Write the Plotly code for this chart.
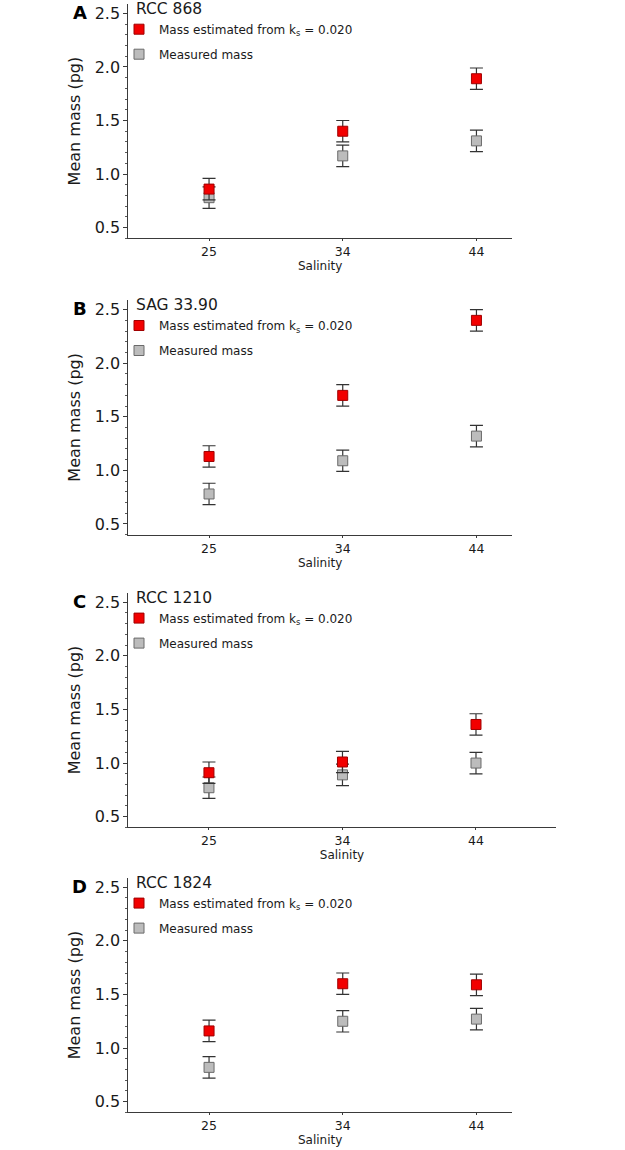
import plotly.graph_objects as go

salinity = ["25", "34", "44"]
panel_letters = ["A", "B", "C", "D"]
strains = ["RCC 868", "SAG 33.90", "RCC 1210", "RCC 1824"]

est_mass = [
    [0.86, 1.40, 1.89],
    [1.13, 1.70, 2.40],
    [0.91, 1.01, 1.36],
    [1.16, 1.60, 1.59],
]
est_err = [
    [0.10, 0.10, 0.10],
    [0.10, 0.10, 0.10],
    [0.10, 0.10, 0.10],
    [0.10, 0.10, 0.10],
]
meas_mass = [
    [0.78, 1.17, 1.31],
    [0.78, 1.09, 1.32],
    [0.77, 0.89, 1.00],
    [0.82, 1.25, 1.27],
]
meas_err = [
    [0.10, 0.10, 0.10],
    [0.10, 0.10, 0.10],
    [0.10, 0.10, 0.10],
    [0.10, 0.10, 0.10],
]

W, H = 625, 1150
FONT = "DejaVu Sans"
TXT = "#1a1a1a"

# pixel geometry of each panel (left, right, top, bottom)
panels = [
    (128.3, 512.0, 3.7, 238.4),
    (128.3, 512.0, 300.0, 534.7),
    (128.3, 555.7, 592.6, 827.4),
    (128.3, 512.0, 877.6, 1112.4),
]
xright = [2.266, 2.266, 2.597, 2.266]

fig = go.Figure()
layout = dict(
    template="none",
    width=W, height=H,
    margin=dict(l=0, r=0, t=0, b=0, pad=0),
    paper_bgcolor="white", plot_bgcolor="white",
    font=dict(family=FONT, color=TXT),
    showlegend=True,
)
annotations = []

for i in range(4):
    sfx = "" if i == 0 else str(i + 1)
    xa, ya = "x" + sfx, "y" + sfx
    lg = "legend" + sfx
    l, r, t, b = panels[i]

    fig.add_trace(go.Scatter(
        x=salinity, y=meas_mass[i], mode="markers", name="Measured mass",
        xaxis=xa, yaxis=ya, legend=lg, legendgroup="m%d" % i, legendrank=2,
        marker=dict(symbol="square", size=10, color="#bcbcbc",
                    line=dict(color="#6a6a6a", width=1)),
        error_y=dict(type="data", array=meas_err[i], color="#333333",
                     thickness=1.2, width=6.5),
    ))
    fig.add_trace(go.Scatter(
        x=salinity, y=est_mass[i], mode="markers",
        name="Mass estimated from k<sub>s</sub> = 0.020",
        xaxis=xa, yaxis=ya, legend=lg, legendgroup="e%d" % i, legendrank=1,
        marker=dict(symbol="square", size=10, color="#f20000",
                    line=dict(color="#a00000", width=1)),
        error_y=dict(type="data", array=est_err[i], color="#333333",
                     thickness=1.2, width=6.5),
    ))

    layout["xaxis" + sfx] = dict(
        domain=[l / W, r / W], anchor=ya, type="category",
        categoryorder="array", categoryarray=salinity,
        range=[-0.604, xright[i]], automargin=False,
        showline=True, linecolor="#3a3a3a", linewidth=1,
        ticks="outside", ticklen=2, tickcolor="#3a3a3a",
        tickfont=dict(size=12.5, family=FONT, color=TXT),
        showgrid=False, zeroline=False,
        title=dict(text="Salinity", font=dict(size=12, family=FONT, color=TXT),
                   standoff=1),
    )
    layout["yaxis" + sfx] = dict(
        domain=[1 - b / H, 1 - t / H], anchor=xa,
        range=[0.40, 2.59], automargin=False,
        tickvals=[0.5, 1.0, 1.5, 2.0, 2.5], ticktext=["0.5", "1.0", "1.5", "2.0", "2.5"],
        showline=True, linecolor="#3a3a3a", linewidth=1,
        ticks="outside", ticklen=4, tickcolor="#3a3a3a",
        minor=dict(dtick=0.1, tick0=0, ticks="outside", ticklen=2.5,
                   tickcolor="#5a5a5a", showgrid=False),
        tickfont=dict(size=16, family=FONT, color=TXT),
        showgrid=False, zeroline=False,
        title=dict(text="Mean mass (pg)", font=dict(size=16, family=FONT, color=TXT),
                   standoff=10),
    )
    layout[lg] = dict(
        x=119 / W, xanchor="left",
        y=1 - (t + 11) / H, yanchor="top",
        traceorder="grouped", tracegroupgap=6,
        bgcolor="rgba(0,0,0,0)", borderwidth=0,
        font=dict(size=12, family=FONT, color=TXT),
        itemclick=False, itemdoubleclick=False,
    )
    annotations.append(dict(
        text=strains[i], xref="paper", yref="paper",
        x=134 / W, y=1 - (t + 5) / H, xanchor="left", yanchor="middle",
        showarrow=False, font=dict(size=15.5, family=FONT, color=TXT),
    ))
    annotations.append(dict(
        text="<b>%s</b>" % panel_letters[i], xref="paper", yref="paper",
        x=79.5 / W, y=1 - (t + 8.5) / H, xanchor="center", yanchor="middle",
        showarrow=False, font=dict(size=18, family=FONT, color="#000000"),
    ))

layout["annotations"] = annotations
fig.update_layout(**layout)
fig.write_html("out.html", config={"displayModeBar": False},
               post_script="document.body.style.margin='0px';")
